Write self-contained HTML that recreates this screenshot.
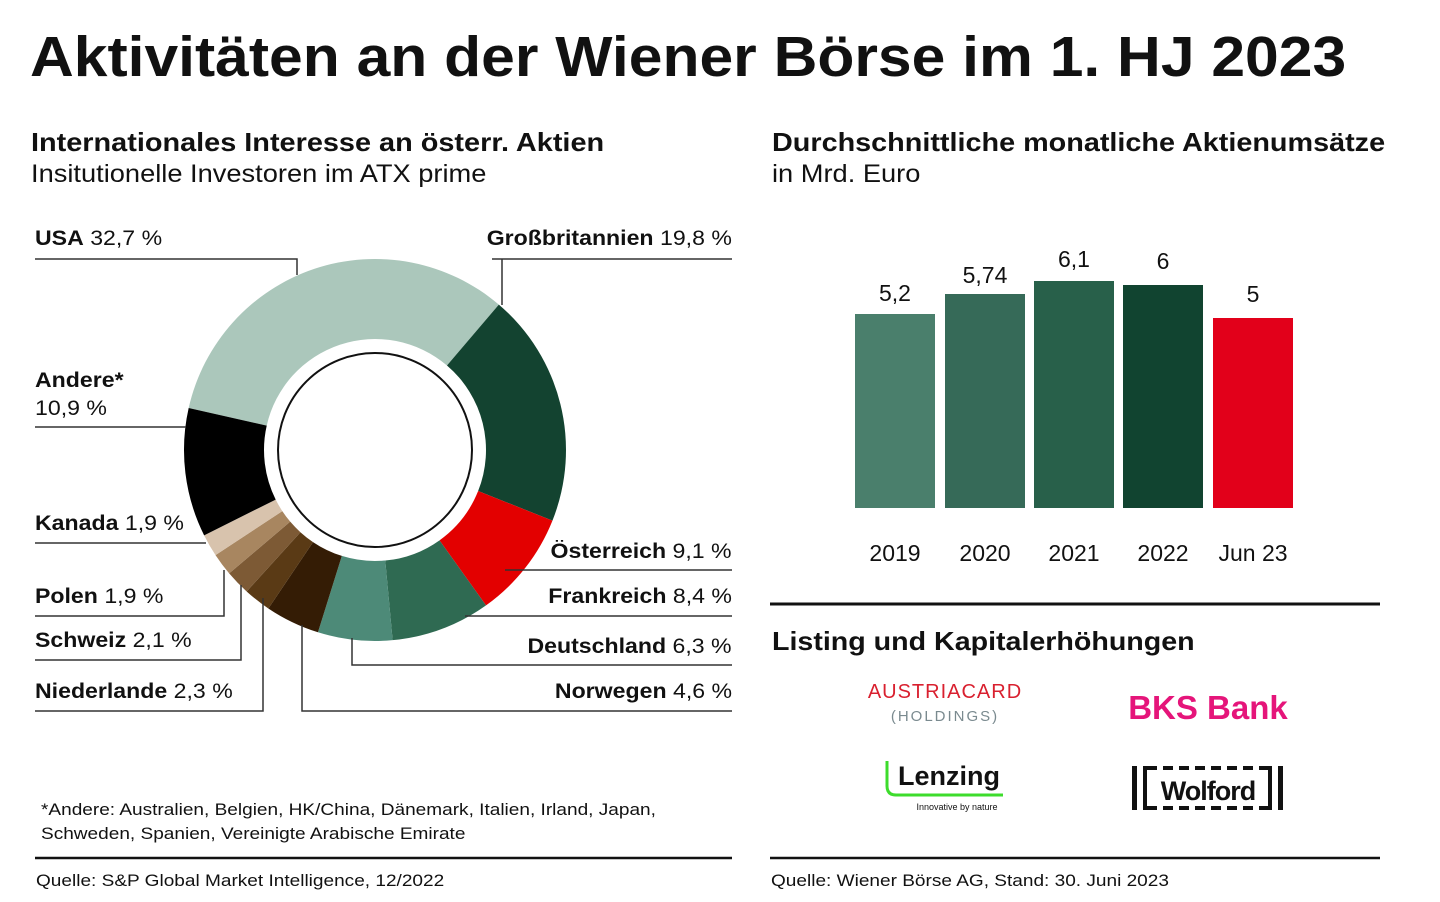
<!DOCTYPE html>
<html><head><meta charset="utf-8"><style>
body{margin:0;width:1440px;height:902px;background:#fff;font-family:"Liberation Sans",sans-serif;color:#111;position:relative;overflow:hidden}
.t{position:absolute;white-space:nowrap;transform-origin:0 0}
.r{transform-origin:100% 0}
.b{font-weight:bold}
</style></head><body>
<div class="t b" style="left:30px;top:24px;font-size:57px;transform:scaleX(1.063)">Aktivitäten an der Wiener Börse im 1. HJ 2023</div>
<div class="t b" style="left:31px;top:127px;font-size:26px;transform:scaleX(1.11)">Internationales Interesse an österr. Aktien</div>
<div class="t" style="left:31px;top:160px;font-size:25px;transform:scaleX(1.09)">Insitutionelle Investoren im ATX prime</div>
<div class="t b" style="left:772px;top:127px;font-size:26px;transform:scaleX(1.107)">Durchschnittliche monatliche Aktienumsätze</div>
<div class="t" style="left:772px;top:160px;font-size:25px;transform:scaleX(1.09)">in Mrd. Euro</div>

<svg width="1440" height="902" style="position:absolute;left:0;top:0">
<g id="donut"></g>
<circle cx="375" cy="450" r="97" fill="none" stroke="#111" stroke-width="2"/>
<g stroke="#333" stroke-width="1.5" fill="none">
<polyline points="35,259 297,259 297,275"/>
<polyline points="492,259 732,259"/><polyline points="502,259 502,305"/>
<polyline points="35,427 186,427"/>
<polyline points="35,543 206,543"/>
<polyline points="35,616 224,616 224,570"/>
<polyline points="35,660 241,660 241,585"/>
<polyline points="35,711 263,711 263,598"/>
<polyline points="732,711 302,711 302,625"/>
<polyline points="732,665 352,665 352,638"/>
<polyline points="465,616 732,616"/>
<polyline points="505,570 732,570"/>
</g>
<rect x="855" y="314" width="80" height="194" fill="#4a7f6c"/>
<rect x="945" y="294" width="80" height="214" fill="#366a58"/>
<rect x="1034" y="281" width="80" height="227" fill="#28604a"/>
<rect x="1123" y="285" width="80" height="223" fill="#114430"/>
<rect x="1213" y="318" width="80" height="190" fill="#e2001a"/>
<g font-family="Liberation Sans" font-size="23" text-anchor="middle" fill="#111">
<text x="895" y="301">5,2</text><text x="985" y="283">5,74</text><text x="1074" y="267">6,1</text><text x="1163" y="269">6</text><text x="1253" y="302">5</text>
<text x="895" y="561">2019</text><text x="985" y="561">2020</text><text x="1074" y="561">2021</text><text x="1163" y="561">2022</text><text x="1253" y="561">Jun 23</text>
</g>
<line x1="770" y1="604" x2="1380" y2="604" stroke="#111" stroke-width="3"/>
<line x1="35" y1="858" x2="732" y2="858" stroke="#111" stroke-width="2.5"/>
<line x1="770" y1="858" x2="1380" y2="858" stroke="#111" stroke-width="2.5"/>
<text x="945" y="698" font-family="Liberation Sans" font-size="20" fill="#d9202f" text-anchor="middle" letter-spacing="1">AUSTRIACARD</text>
<text x="945" y="721" font-family="Liberation Sans" font-size="15" fill="#7a8a8f" text-anchor="middle" letter-spacing="2">(HOLDINGS)</text>
<text x="1208" y="719" font-family="Liberation Sans" font-size="33" font-weight="bold" fill="#e5157a" text-anchor="middle">BKS Bank</text>
<path d="M887,761 V786 Q887,795 896,795 H1003" stroke="#3ddc2c" stroke-width="3" fill="none"/>
<text x="898" y="785" font-family="Liberation Sans" font-size="27" font-weight="bold" fill="#111">Lenzing</text>
<text x="957" y="810" font-family="Liberation Sans" font-size="9" fill="#111" text-anchor="middle">Innovative by nature</text>
<g fill="#111"><rect x="1132" y="766" width="5" height="44"/><rect x="1278" y="766" width="5" height="44"/>
<rect x="1143" y="766" width="4" height="44"/><rect x="1268" y="766" width="4" height="44"/></g>
<line x1="1147" y1="768" x2="1268" y2="768" stroke="#111" stroke-width="4" stroke-dasharray="10,6"/>
<line x1="1147" y1="808" x2="1268" y2="808" stroke="#111" stroke-width="4" stroke-dasharray="10,6"/>
<text x="1208" y="800" font-family="Liberation Sans" font-size="27" font-weight="bold" fill="#111" text-anchor="middle" letter-spacing="-1">Wolford</text>
</svg>

<div class="t" style="left:35px;top:227px;font-size:21px;transform:scaleX(1.1)"><b>USA</b> 32,7 %</div>
<div class="t r" style="right:708px;top:227px;font-size:21px;transform:scaleX(1.1)"><b>Großbritannien</b> 19,8 %</div>
<div class="t" style="left:35px;top:367px;font-size:21px;line-height:28px;transform:scaleX(1.1)"><b>Andere*</b><br>10,9 %</div>
<div class="t" style="left:35px;top:512px;font-size:21px;transform:scaleX(1.1)"><b>Kanada</b> 1,9 %</div>
<div class="t" style="left:35px;top:585px;font-size:21px;transform:scaleX(1.1)"><b>Polen</b> 1,9 %</div>
<div class="t" style="left:35px;top:629px;font-size:21px;transform:scaleX(1.1)"><b>Schweiz</b> 2,1 %</div>
<div class="t" style="left:35px;top:680px;font-size:21px;transform:scaleX(1.1)"><b>Niederlande</b> 2,3 %</div>
<div class="t r" style="right:708px;top:540px;font-size:21px;transform:scaleX(1.1)"><b>Österreich</b> 9,1 %</div>
<div class="t r" style="right:708px;top:585px;font-size:21px;transform:scaleX(1.1)"><b>Frankreich</b> 8,4 %</div>
<div class="t r" style="right:708px;top:635px;font-size:21px;transform:scaleX(1.1)"><b>Deutschland</b> 6,3 %</div>
<div class="t r" style="right:708px;top:680px;font-size:21px;transform:scaleX(1.1)"><b>Norwegen</b> 4,6 %</div>
<div class="t b" style="left:772px;top:626px;font-size:26px;transform:scaleX(1.1)">Listing und Kapitalerhöhungen</div>
<div class="t" style="left:41px;top:798px;font-size:17px;line-height:24px;transform:scaleX(1.12)">*Andere: Australien, Belgien, HK/China, Dänemark, Italien, Irland, Japan,<br>Schweden, Spanien, Vereinigte Arabische Emirate</div>
<div class="t" style="left:36px;top:871px;font-size:17px;transform:scaleX(1.12)">Quelle: S&amp;P Global Market Intelligence, 12/2022</div>
<div class="t" style="left:771px;top:871px;font-size:17px;transform:scaleX(1.12)">Quelle: Wiener Börse AG, Stand: 30. Juni 2023</div>

<script>
(function(){
var d=[[32.7,"#abc7bb"],[19.8,"#134330"],[9.1,"#e30000"],[8.4,"#2f6a52"],[6.3,"#4d8a78"],[4.6,"#341c05"],[2.3,"#5a3a15"],[2.1,"#7d5a35"],[1.9,"#a88660"],[1.9,"#d8c3ad"],[10.9,"#000"]];
var cx=375,cy=450,R=191,r=111,a=40.4-117.7,s="";
function p(rad,ang){var t=ang*Math.PI/180;return (cx+rad*Math.sin(t)).toFixed(2)+","+(cy-rad*Math.cos(t)).toFixed(2);}
d.forEach(function(x){var b=a+x[0]*3.6,l=(b-a)>180?1:0;
s+='<path fill="'+x[1]+'" d="M'+p(R,a)+' A'+R+','+R+' 0 '+l+' 1 '+p(R,b)+' L'+p(r,b)+' A'+r+','+r+' 0 '+l+' 0 '+p(r,a)+' Z"/>';a=b;});
document.getElementById("donut").innerHTML=s;})();
</script>
</body></html>
